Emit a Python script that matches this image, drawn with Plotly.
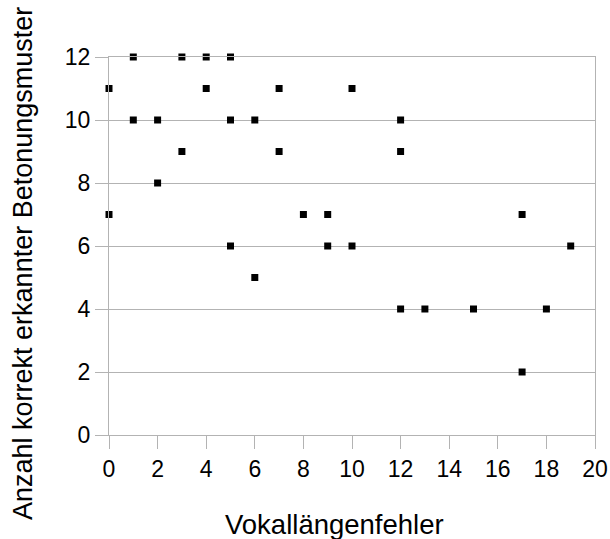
import plotly.graph_objects as go

x_vals = [0, 0, 1, 1, 2, 2, 3, 3, 4, 4, 5, 5, 5, 6, 6, 7, 7, 8, 9, 9, 10, 10, 12, 12, 12, 13, 15, 17, 17, 18, 19]
y_vals = [11, 7, 12, 10, 10, 8, 12, 9, 12, 11, 12, 10, 6, 10, 5, 11, 9, 7, 7, 6, 11, 6, 10, 9, 4, 4, 4, 7, 2, 4, 6]
x_title = "Vokallängenfehler"
y_title = "Anzahl korrekt erkannter Betonungsmuster"

grid = "#b3b3b3"
font = "Liberation Sans, Arial, sans-serif"

fig = go.Figure(go.Scatter(
    x=x_vals, y=y_vals, mode="markers",
    marker=dict(symbol="square", size=7, color="black"),
    showlegend=False, cliponaxis=False, hoverinfo="skip",
))
fig.update_layout(
    width=610, height=539,
    margin=dict(l=109, r=15, t=57, b=104),
    paper_bgcolor="white", plot_bgcolor="white",
    font=dict(family=font, color="black", size=23),
    annotations=[
        dict(text=x_title, xref="paper", yref="paper", x=0.463, y=-0.237,
             xanchor="center", yanchor="middle", showarrow=False,
             font=dict(size=27.5)),
        dict(text=y_title, xref="paper", yref="paper", x=-0.177, y=0.455,
             xanchor="center", yanchor="middle", showarrow=False, textangle=-90,
             font=dict(size=27)),
    ],
)
fig.update_xaxes(
    range=[0, 20], dtick=2, tick0=0, showgrid=False, zeroline=False,
    showline=True, linecolor=grid, linewidth=1, mirror=True,
    ticks="outside", ticklen=13, tickcolor=grid, tickfont=dict(size=23),
    automargin=False,
)
fig.update_yaxes(
    range=[0, 12], dtick=2, tick0=0, showgrid=True, gridcolor=grid, gridwidth=1,
    zeroline=False, showline=True, linecolor=grid, linewidth=1, mirror=True,
    ticks="outside", ticklen=13, tickcolor=grid, tickfont=dict(size=23),
    automargin=False,
)
fig.write_html("out.html", config={"displayModeBar": False},
               post_script="document.body.style.margin='0';")
